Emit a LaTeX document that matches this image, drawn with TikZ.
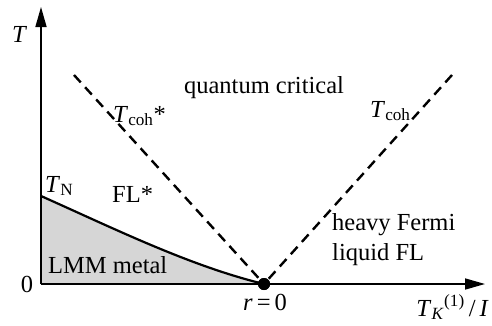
\documentclass[tikz,border=0pt]{standalone}
\usepackage{fontspec}
\setmainfont{Liberation Serif}
\usepackage{tikz}
\usetikzlibrary{arrows.meta,positioning,calc}
\tikzset{
  base/.style={font=\fontsize{24.5}{29}\selectfont, inner sep=0pt, align=left},
  axis/.style={line width=1.6pt, -{Triangle[length=20pt,width=11pt]}},
  border/.style={line width=2.2pt},
  cross/.style={line width=2.4pt, dash pattern=on 10pt off 6.5pt},
  phase/.style={fill=black!16, draw=none},
  lbl/.style={base, anchor=base west},
}
\begin{document}
\begin{tikzpicture}[x=1pt,y=1pt]
  \useasboundingbox (0,0) rectangle (492,325);
  % axes and end points
  \coordinate (o) at (41,41);
  \coordinate (tn) at (41,129);
  \coordinate (ytip) at (41,318);
  \coordinate (xtip) at (485,41);
  \coordinate (lt) at (74,250);
  \coordinate (rt) at (452,250);
  \node[circle, fill=black, inner sep=0pt, minimum size=12pt] (qcp) at (264,41) {};
  % LMM region
  \fill[phase] (o) -- (tn) .. controls (115,96) and (190,59) .. (qcp.center) -- cycle;
  \draw[axis] (o) -- (ytip);
  \draw[axis] (o) -- (xtip);
  \draw[border] (tn) .. controls (115,96) and (190,59) .. (qcp.center);
  \foreach \a in {lt,rt}{\draw[cross] (\a) -- (qcp.center);}
  \node[circle, fill=black, inner sep=0pt, minimum size=12pt] at (qcp) {};
  % labels
  \node[lbl] (ylab) at (12,283) {\textit{T}};
  \node[lbl, anchor=base] (zero) at (27,33) {0};
  \node[lbl] (tnlab) at (45,133) {\textit{T}\textsubscript{N}};
  \node[lbl] (flstar) at (112,123) {FL*};
  \node[lbl] (lmm) at (48,52) {LMM metal};
  \node[lbl, anchor=base] (qc) at (264,232) {quantum critical};
  \node[lbl] (tcohs) at (113,203) {\textit{T}\textsubscript{coh}*};
  \node[lbl] (tcoh) at (370,208) {\textit{T}\textsubscript{coh}};
  \node[lbl] (heavy) at (332,95) {heavy Fermi};
  \node[lbl] (liquid) at (332,65) {liquid FL};
  \node[lbl, anchor=base] (rzero) at (265,15) {\textit{r}\,=\,0};
  \node[lbl, anchor=base east] (xlab) at (489,9) {\textit{T}\textsubscript{\textit{K}}\textsuperscript{(1)}\,/\,\textit{I}};
\end{tikzpicture}
\end{document}
